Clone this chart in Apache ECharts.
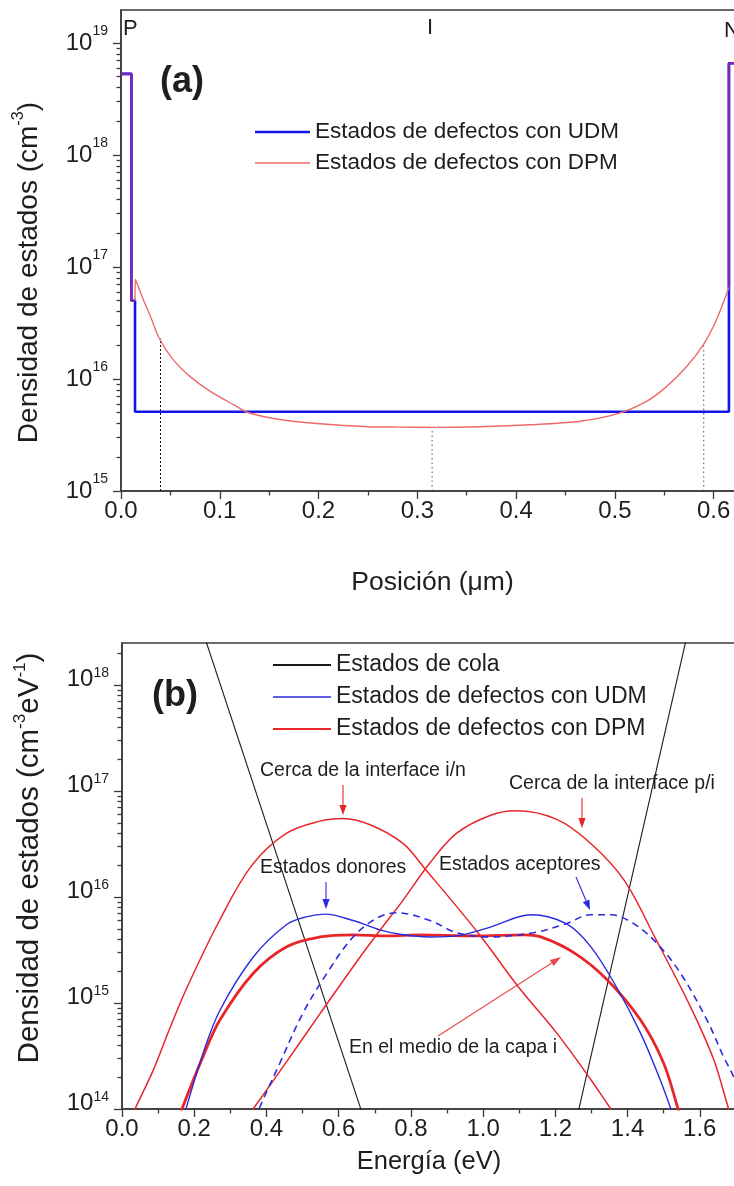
<!DOCTYPE html>
<html><head><meta charset="utf-8">
<script src="https://cdn.jsdelivr.net/npm/echarts@6/dist/echarts.min.js"></script>
<style>html,body{margin:0;padding:0;background:#fff;overflow:hidden;width:734px;height:1186px}#c{width:800px;height:1186px}</style>
</head><body><div id="c"></div>
<script>
// ---------------- Panel (a): position (µm) vs. defect density (cm^-3) ----------------
const posUDM = [0, 0.0105, 0.0105, 0.0142, 0.0142, 0.6155, 0.6155, 0.65];
const valUDM = [5.3e18, 5.3e18, 5e16, 5e16, 5.1e15, 5.1e15, 6.6e18, 6.6e18];
const posDPM = [0, 0.0105, 0.0105, 0.0142, 0.0145, 0.0226, 0.0294, 0.0388, 0.053, 0.07, 0.09, 0.114, 0.129, 0.164, 0.198, 0.249, 0.282, 0.32, 0.363, 0.414, 0.465, 0.503, 0.532, 0.552, 0.573, 0.59, 0.603, 0.6155, 0.6155, 0.65];
const valDPM = [5.3e18, 5.3e18, 5e16, 5e16, 7.8e16, 5.1e16, 3.7e16, 2.3e16, 1.48e16, 1.05e16, 7.8e15, 5.9e15, 5.0e15, 4.3e15, 4.0e15, 3.75e15, 3.72e15, 3.7e15, 3.75e15, 3.9e15, 4.2e15, 4.9e15, 6.3e15, 8.5e15, 1.3e16, 2.05e16, 3.4e16, 6.6e16, 6.6e18, 6.6e18];
const dropPos = [0.04, 0.315, 0.59];
const dropTop = [2.3e16, 3.7e15, 2.05e16];
const decadesA = [1e15, 1e16, 1e17, 1e18, 1e19];

// ---------------- Panel (b): energy (eV) vs. density of states (cm^-3 eV^-1) ----------------
const eTailV = [0.2, 0.7];
const vTailV = [5.6e18, 4.0e13];
const eTailC = [1.24, 1.6];
const vTailC = [4.2e13, 9.8e18];
const eDpmIn = [0.02, 0.036, 0.086, 0.13, 0.18, 0.27, 0.36, 0.456, 0.548, 0.61, 0.687, 0.778, 0.836, 0.988, 1.099, 1.204, 1.298, 1.354, 1.38];
const vDpmIn = [7.4e13, 1e14, 2.3e14, 5.5e14, 1.4e15, 6.0e15, 2.0e16, 4.0e16, 5.2e16, 5.5e16, 4.8e16, 3.2e16, 1.9e16, 4.5e15, 1.4e15, 5.2e14, 1.9e14, 1e14, 7.6e13];
const eDpmPi = [0.34, 0.363, 0.456, 0.548, 0.64, 0.705, 0.778, 0.853, 0.927, 1.021, 1.09, 1.204, 1.298, 1.39, 1.48, 1.575, 1.639, 1.68, 1.70];
const vDpmPi = [7.9e13, 1e14, 2.8e14, 7.9e14, 2.2e15, 4.4e15, 9.3e15, 2.1e16, 4.0e16, 5.9e16, 6.5e16, 5.4e16, 3.2e16, 1.45e16, 3.9e15, 9.1e14, 2.9e14, 1e14, 6.3e13];
const eDpmMid = [0.15, 0.166, 0.224, 0.271, 0.363, 0.456, 0.548, 0.64, 0.733, 0.825, 0.974, 1.113, 1.16, 1.25, 1.34, 1.436, 1.50, 1.54, 1.555];
const vDpmMid = [7e13, 1e14, 3.1e14, 6.9e14, 1.9e15, 3.4e15, 4.2e15, 4.4e15, 4.3e15, 4.4e15, 4.3e15, 4.4e15, 4.2e15, 3.0e15, 1.7e15, 6.9e14, 2.7e14, 1e14, 7e13];
const eUdmDon = [0.165, 0.177, 0.225, 0.271, 0.363, 0.456, 0.51, 0.562, 0.64, 0.714, 0.778, 0.853, 0.927, 1.02, 1.132, 1.23, 1.298, 1.37, 1.436, 1.49, 1.52, 1.535];
const vUdmDon = [7e13, 1e14, 3.4e14, 8.5e14, 2.7e15, 5.5e15, 6.5e15, 6.9e15, 6.0e15, 4.9e15, 4.4e15, 4.2e15, 4.3e15, 5.2e15, 6.8e15, 5.6e15, 3.4e15, 1.4e15, 5.2e14, 1.9e14, 1e14, 7e13];
const eUdmAcc = [0.37, 0.382, 0.437, 0.50, 0.567, 0.64, 0.705, 0.761, 0.853, 0.927, 1.02, 1.14, 1.23, 1.298, 1.354, 1.417, 1.48, 1.547, 1.62, 1.666, 1.694, 1.72, 1.73];
const vUdmAcc = [7.9e13, 1.05e14, 2.7e14, 7.9e14, 1.9e15, 4.2e15, 6.3e15, 7.1e15, 6.0e15, 4.6e15, 4.2e15, 4.6e15, 5.6e15, 6.8e15, 6.8e15, 5.6e15, 3.7e15, 1.9e15, 6.9e14, 3.1e14, 2.0e14, 1.1e14, 8.9e13];
const decadesB = [1e14, 1e15, 1e16, 1e17, 1e18];

// ---------------- names ----------------
const N_UDM = 'Estados de defectos con UDM';
const N_DPM = 'Estados de defectos con DPM';
const N_COLA = 'Estados de cola';

// ---------------- helpers ----------------
const FONT = '"Liberation Sans", Arial, sans-serif';
const INK = '#1e1e1e';
const AX = '#3a3a3a';
const pairs = (xs, ys) => xs.map((x, i) => [x, ys[i]]);
const minorOf = decs => { const o = []; decs.forEach(d => { for (let k = 2; k <= 9; k++) o.push(k * d); }); return o; };
const logLabel = v => '{b|10}{s|' + Math.round(Math.log10(v)) + '}';
function richLog(raise) {
  return {
    b: { fontSize: 24, lineHeight: 38, verticalAlign: 'middle', color: INK, fontFamily: FONT, padding: [0, 0, raise * 2, 0] },
    s: { fontSize: 14, lineHeight: 14, verticalAlign: 'top', color: INK, fontFamily: FONT }
  };
}
const axLine = { show: true, onZero: false, lineStyle: { color: AX, width: 1.5 } };
const tickStyle = { color: AX, width: 1.3 };

function xAxisCfg(grid, max, interval, name, gap, fs, pad) {
  return {
    gridIndex: grid, type: 'value', min: 0, max: max, interval: interval,
    axisLine: axLine,
    axisTick: { length: 8, lineStyle: tickStyle },
    minorTick: { show: true, splitNumber: 2, length: 4.5, lineStyle: tickStyle },
    axisLabel: { fontSize: 24, color: INK, fontFamily: FONT, margin: 8, formatter: v => v.toFixed(1), showMaxLabel: false },
    splitLine: { show: false }, minorSplitLine: { show: false },
    name: name, nameLocation: 'middle', nameGap: gap,
    nameTextStyle: { fontSize: fs, color: INK, fontFamily: FONT, padding: pad }
  };
}
function yMain(grid, min, max, decs, name, pad, fs, raise) {
  return {
    gridIndex: grid, type: 'log', logBase: 10, min: min, max: max, position: 'left',
    axisLine: axLine,
    axisTick: { customValues: decs, length: 8, lineStyle: tickStyle },
    axisLabel: { customValues: decs, formatter: logLabel, rich: richLog(raise), margin: 13 },
    splitLine: { show: false },
    name: name, nameLocation: 'middle', nameGap: 74, nameRotate: 90,
    nameTextStyle: { fontSize: fs, color: INK, fontFamily: FONT, lineHeight: 36, padding: pad,
      rich: { s: { fontSize: fs * 0.58, lineHeight: 16, verticalAlign: 'top', color: INK, fontFamily: FONT } } }
  };
}
function yMinor(grid, min, max, decs) {
  return {
    gridIndex: grid, type: 'log', logBase: 10, min: min, max: max, position: 'left',
    axisLine: { show: false }, axisLabel: { show: false }, splitLine: { show: false },
    axisTick: { customValues: minorOf(decs), length: 4.5, lineStyle: tickStyle }
  };
}
function line(name, xi, yi, data, color, width, extra) {
  return Object.assign({
    name: name, type: 'line', xAxisIndex: xi, yAxisIndex: yi, data: data,
    symbol: 'none', showSymbol: false, silent: true, animation: false,
    lineStyle: { color: color, width: width }, itemStyle: { color: color }
  }, extra || {});
}
function txt(x, y, text, size, align, weight) {
  return { type: 'text', x: x, y: y, silent: true,
    style: { text: text, font: (weight || 'normal') + ' ' + size + 'px ' + FONT, fill: INK,
      textAlign: align || 'left', textVerticalAlign: 'middle' } };
}
function arrow(x1, y1, x2, y2, color, head) {
  const dx = x2 - x1, dy = y2 - y1, L = Math.hypot(dx, dy), ux = dx / L, uy = dy / L;
  const hl = head || 10, hw = 3.6;
  const bx = x2 - ux * hl, by = y2 - uy * hl;
  return [
    { type: 'line', silent: true, shape: { x1: x1, y1: y1, x2: bx, y2: by }, style: { stroke: color, lineWidth: 1.1 } },
    { type: 'polygon', silent: true, shape: { points: [[x2, y2], [bx - uy * hw, by + ux * hw], [bx + uy * hw, by - ux * hw]] }, style: { fill: color } }
  ];
}

// ---------------- derived series data ----------------
const dpmA = pairs(posDPM, valDPM);
const dpmCurve = dpmA.slice(3, dpmA.length - 2);          // continuous part inside the i-layer
const overlayP = dpmA.filter(p => p[0] <= 0.0142);         // P layer: both profiles coincide
const overlayN = dpmA.filter(p => p[0] >= 0.6155);         // N layer: both profiles coincide

const RED_A = '#ee6a6a', BLUE_A = '#1414ee', PURPLE = '#7a28b8';
const RED_B = '#e8262a', BLUE_B = '#2a2ae0', BLACK = '#1a1a1a';

const series = [
  line(N_UDM, 0, 0, pairs(posUDM, valUDM), BLUE_A, 2.6, { z: 2 }),
  line(N_DPM, 0, 0, dpmCurve, RED_A, 1.4, { z: 3, smooth: 0.3 }),
  line('overlapP', 0, 0, overlayP, PURPLE, 2.6, { z: 4 }),
  line('overlapN', 0, 0, overlayN, PURPLE, 2.6, { z: 4 })
];
dropPos.forEach((x, i) => {
  series.push(line('drop' + i, 0, 0, [[x, decadesA[0]], [x, dropTop[i]]], i === 0 ? '#111' : '#555', 1,
    { lineStyle: { color: i === 0 ? '#111' : '#555', width: 1, type: i === 0 ? [2, 2] : [1.5, 3] }, z: 1 }));
});
series.push(
  line(N_COLA, 1, 2, pairs(eTailV, vTailV), BLACK, 1.1),
  line(N_COLA, 1, 2, pairs(eTailC, vTailC), BLACK, 1.1),
  line(N_DPM, 1, 2, pairs(eDpmIn, vDpmIn), RED_B, 1.5, { smooth: 0.35 }),
  line(N_DPM, 1, 2, pairs(eDpmPi, vDpmPi), RED_B, 1.5, { smooth: 0.35 }),
  line(N_DPM, 1, 2, pairs(eDpmMid, vDpmMid), RED_B, 2.8, { smooth: 0.35, z: 3 }),
  line(N_UDM, 1, 2, pairs(eUdmDon, vUdmDon), BLUE_B, 1.4, { smooth: 0.35 }),
  line(N_UDM, 1, 2, pairs(eUdmAcc, vUdmAcc), BLUE_B, 1.6,
    { smooth: 0.35, lineStyle: { color: BLUE_B, width: 1.6, type: [7, 5] } })
);

const graphics = [
  txt(123, 29, 'P', 22), txt(430, 28, 'I', 22, 'center'), txt(724, 31, 'N', 22),
  txt(182, 82, '(a)', 36, 'center', 'bold'),
  txt(175, 696, '(b)', 36, 'center', 'bold'),
  txt(260, 771, 'Cerca de la interface i/n', 19.5),
  txt(509, 784, 'Cerca de la interface p/i', 19.5),
  txt(260, 868, 'Estados donores', 19.5),
  txt(439, 865, 'Estados aceptores', 19.5),
  txt(349, 1048, 'En el medio de la capa i', 19.5)
].concat(
  arrow(343, 785, 343, 815, RED_B),
  arrow(582, 798, 582, 828, RED_B),
  arrow(326, 882, 326, 909, BLUE_B),
  arrow(576, 877, 590, 910, BLUE_B),
  arrow(438, 1036, 561, 957, '#e84848', 11)
);

const option = {
  backgroundColor: '#fff',
  animation: false,
  textStyle: { fontFamily: FONT },
  grid: [
    { left: 121, top: 10, width: 642, height: 481, show: true, borderColor: AX, borderWidth: 1.5, containLabel: false },
    { left: 122, top: 643, width: 650, height: 466, show: true, borderColor: AX, borderWidth: 1.5, containLabel: false }
  ],
  xAxis: [
    xAxisCfg(0, 0.65, 0.1, 'Posición (μm)', 78, 26.5, [0, 19, 0, 0]),
    xAxisCfg(1, 1.8, 0.2, 'Energía (eV)', 40, 25.5, [0, 36, 0, 0])
  ],
  yAxis: [
    yMain(0, 1e15, 1.97e19, decadesA, 'Densidad de estados (cm{s|-3})', [0, 44, 0, 0], 28, 0),
    yMinor(0, 1e15, 1.97e19, decadesA),
    yMain(1, 1e14, 2.49e18, decadesB, 'Densidad de estados (cm{s|-3}eV{s|-1})', [0, 0, 0, 36], 29.5, 6),
    yMinor(1, 1e14, 2.49e18, decadesB)
  ],
  legend: [
    { orient: 'vertical', left: 250, top: 115, itemWidth: 55, itemHeight: 14, itemGap: 7, selectedMode: false,
      textStyle: { fontSize: 22.5, color: INK, lineHeight: 24, fontFamily: FONT },
      data: [
        { name: N_UDM, icon: 'path://M0,0L22,0L22,1L0,1Z', itemStyle: { color: BLUE_A, borderWidth: 0 } },
        { name: N_DPM, icon: 'path://M0,0L42,0L42,1L0,1Z', itemStyle: { color: RED_A, borderWidth: 0 } }
      ] },
    { orient: 'vertical', left: 268, top: 648, itemWidth: 58, itemHeight: 14, itemGap: 8, selectedMode: false,
      textStyle: { fontSize: 23, color: INK, lineHeight: 24, fontFamily: FONT },
      data: [
        { name: N_COLA, icon: 'path://M0,0L29,0L29,1L0,1Z', itemStyle: { color: BLACK, borderWidth: 0 } },
        { name: N_UDM, icon: 'path://M0,0L45,0L45,1L0,1Z', itemStyle: { color: BLUE_B, borderWidth: 0 } },
        { name: N_DPM, icon: 'path://M0,0L32,0L32,1L0,1Z', itemStyle: { color: RED_B, borderWidth: 0 } }
      ] }
  ],
  graphic: graphics,
  series: series
};
const chart = echarts.init(document.getElementById('c'), null, { renderer: 'canvas' });
chart.setOption(option);
</script>
</body></html>
